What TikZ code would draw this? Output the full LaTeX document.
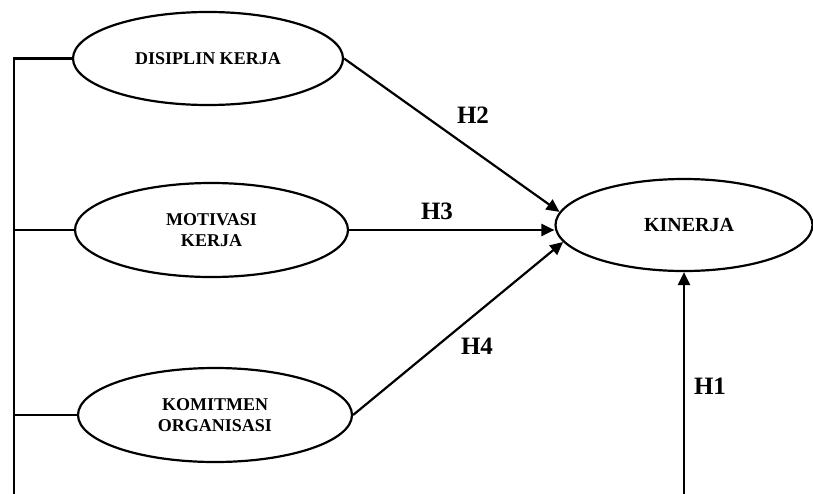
\documentclass[tikz,border=0pt]{standalone}
\usepackage{fontspec}
\setmainfont{Liberation Serif}
\usetikzlibrary{shapes.geometric,arrows.meta}
\tikzset{
  var/.style={draw, ellipse, line width=2.2pt, inner sep=0pt, align=center,
    font=\bfseries\fontsize{18}{21}\selectfont},
  conn/.style={line width=2.2pt},
  arr/.style={line width=2.2pt, -{Triangle[length=13pt,width=12pt]}},
  hlab/.style={font=\bfseries\fontsize{25}{30}\selectfont, inner sep=0pt}
}
\begin{document}
\begin{tikzpicture}[x=1pt,y=-1pt]
\useasboundingbox (0,0) rectangle (813,493);
\node[var, minimum width=270pt, minimum height=93pt] (dis) at (208,58.5) {DISIPLIN KERJA};
\node[var, minimum width=273pt, minimum height=94pt] (mot) at (211.5,230) {MOTIVASI\\KERJA};
\node[var, minimum width=274pt, minimum height=94pt] (kom) at (215,415) {KOMITMEN\\ORGANISASI};
\node[var, minimum width=257pt, minimum height=92pt, font=\bfseries\fontsize{20}{24}\selectfont] (kin) at (684,225) {\hspace*{10pt}KINERJA};
\coordinate (bl) at (14,494);
\coordinate (b1) at (684,494);
\draw[conn] (dis.west) -| (bl);
\draw[conn] (mot.west) -- (mot.west -| bl);
\draw[conn] (kom.west) -- (kom.west -| bl);
\draw[arr] (dis.east) -- (kin.174);
\draw[arr] (mot.east) -- (mot.east -| kin.west);
\draw[arr] (kom.east) -- (kin.188);
\draw[arr] (b1) -- (kin.south);
\node[hlab] (h2) at (473,115) {H2};
\node[hlab] (h3) at (437,211) {H3};
\node[hlab] (h4) at (477,346) {H4};
\node[hlab] (h1) at (710,386) {H1};
\end{tikzpicture}
\end{document}
